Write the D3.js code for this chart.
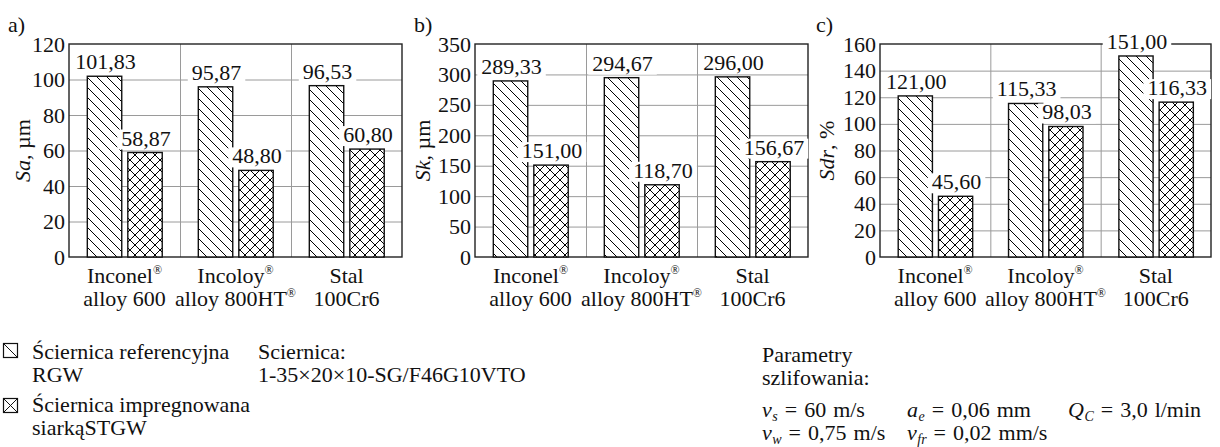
<!DOCTYPE html>
<html><head><meta charset="utf-8">
<script src="https://cdn.jsdelivr.net/npm/d3@7"></script>
<style>
html,body{margin:0;padding:0;background:#fff;}
svg{display:block;font-family:"Liberation Serif","Times New Roman",serif;}
</style></head>
<body>
<svg id="chart" width="1220" height="447"></svg>
<script>
// ---------- DATA ----------
const categories = ["Inconel", "Incoloy", "Stal"];
const categoryLine1 = [["Inconel", "®"], ["Incoloy", "®"], ["Stal", ""]];
const categoryLine2 = [["alloy 600", ""], ["alloy 800HT", "®"], ["100Cr6", ""]];
const seriesNames = ["RGW", "STGW"];

const saRGW  = [101.83, 95.87, 96.53];
const saSTGW = [58.87, 48.80, 60.80];
const skRGW  = [289.33, 294.67, 296.00];
const skSTGW = [151.00, 118.70, 156.67];
const sdrRGW  = [121.00, 115.33, 151.00];
const sdrSTGW = [45.60, 98.03, 116.33];

const saTicks  = [0, 20, 40, 60, 80, 100, 120];
const skTicks  = [0, 50, 100, 150, 200, 250, 300, 350];
const sdrTicks = [0, 20, 40, 60, 80, 100, 120, 140, 160];

const panelLetters = ["a)", "b)", "c)"];
const axisTitles = [["Sa", ", µm"], ["Sk", ", µm"], ["Sdr", ", %"]];

// ---------- LAYOUT ----------
const svg = d3.select("#chart");
const root = svg.append("g").attr("font-family", "Liberation Serif, Times New Roman, serif");
const FS = 22;
const plotTop = 44, plotBottom = 257;
const panels = [
  {left: 69,  right: 402,  titleX: 31,  letterX: 8,   ticks: saTicks,  s1: saRGW,  s2: saSTGW},
  {left: 475, right: 808,  titleX: 431, letterX: 414, ticks: skTicks,  s1: skRGW,  s2: skSTGW},
  {left: 880, right: 1211, titleX: 835, letterX: 816, ticks: sdrTicks, s1: sdrRGW, s2: sdrSTGW}
];

// patterns
const defs = svg.append("defs");
const p1 = defs.append("pattern").attr("id", "diag").attr("patternUnits", "userSpaceOnUse")
  .attr("width", 10).attr("height", 10);
p1.append("rect").attr("width", 10).attr("height", 10).attr("fill", "#fff");
p1.append("path").attr("d", "M-1,-1 L11,11 M-6,4 L1,11 M4,-6 L11,1")
  .attr("stroke", "#000").attr("stroke-width", 1);
const p2 = defs.append("pattern").attr("id", "cross").attr("patternUnits", "userSpaceOnUse")
  .attr("width", 10).attr("height", 10);
p2.append("rect").attr("width", 10).attr("height", 10).attr("fill", "#fff");
p2.append("path").attr("d", "M-1,-1 L11,11 M-6,4 L1,11 M4,-6 L11,1 M11,-1 L-1,11 M-6,6 L1,-1 M9,11 L16,4")
  .attr("stroke", "#000").attr("stroke-width", 1);
const fills = ["url(#diag)", "url(#cross)"];

const fmt = v => d3.format(".2f")(v).replace(".", ",");

panels.forEach((P, pi) => {
  const g = root.append("g");
  const maxV = P.ticks[P.ticks.length - 1];
  const y = d3.scaleLinear().domain([0, maxV]).range([plotBottom, plotTop]);
  const x0 = d3.scaleBand().domain(categories).range([P.left, P.right]).padding(0);
  const cw = x0.bandwidth();
  const x1 = d3.scaleBand().domain(seriesNames).range([cw * 0.165, cw * 0.84]).paddingInner(0.15);

  // horizontal grid
  g.append("g").selectAll("line").data(P.ticks.slice(1, -1)).join("line")
    .attr("x1", P.left).attr("x2", P.right)
    .attr("y1", d => y(d) + 0.5).attr("y2", d => y(d) + 0.5)
    .attr("stroke", "#9a9a9a").attr("stroke-width", 1);
  // vertical grid at category boundaries
  g.append("g").selectAll("line").data(categories.slice(1)).join("line")
    .attr("x1", d => x0(d) + 0.5).attr("x2", d => x0(d) + 0.5)
    .attr("y1", plotTop).attr("y2", plotBottom)
    .attr("stroke", "#9a9a9a").attr("stroke-width", 1);

  // frame
  g.append("rect").attr("x", P.left).attr("y", plotTop)
    .attr("width", P.right - P.left).attr("height", plotBottom - plotTop)
    .attr("fill", "none").attr("stroke", "#222").attr("stroke-width", 1.4);

  // y axis tick labels via d3 axis
  const ax = g.append("g").attr("transform", `translate(${P.left},0)`)
    .call(d3.axisLeft(y).tickValues(P.ticks).tickSize(0).tickPadding(4).tickFormat(d3.format("d")));
  ax.attr("font-family", null);
  ax.select(".domain").remove();
  ax.selectAll("text").attr("font-size", FS).attr("fill", "#111");

  // bars
  const rows = categories.map((c, i) => [
    {c, s: 0, v: P.s1[i]}, {c, s: 1, v: P.s2[i]}
  ]).flat();
  g.append("g").selectAll("rect").data(rows).join("rect")
    .attr("x", d => x0(d.c) + x1(seriesNames[d.s]))
    .attr("width", x1.bandwidth())
    .attr("y", d => y(d.v))
    .attr("height", d => plotBottom - y(d.v))
    .attr("fill", d => fills[d.s])
    .attr("stroke", "#111").attr("stroke-width", 1.4);

  // value labels with white background
  const lab = g.append("g").selectAll("g").data(rows).join("g")
    .attr("transform", d => `translate(${x0(d.c) + x1(seriesNames[d.s]) + x1.bandwidth() / 2 + 1},${y(d.v) - 7})`);
  lab.append("rect").attr("fill", "#fff");
  lab.append("text").attr("text-anchor", "middle").attr("font-size", FS).attr("fill", "#111")
    .text(d => fmt(d.v));
  lab.each(function() {
    const t = d3.select(this).select("text").node().getBBox();
    d3.select(this).select("rect").attr("x", t.x - 4).attr("y", -16).attr("width", t.width + 8).attr("height", 20);
  });

  // category labels
  const cl = g.append("g").selectAll("g").data(categories).join("g")
    .attr("transform", d => `translate(${x0(d) + cw / 2},0)`);
  [categoryLine1, categoryLine2].forEach((L, li) => {
    const t = cl.append("text").attr("text-anchor", "middle").attr("font-size", FS).attr("fill", "#111")
      .attr("y", li === 0 ? 283 : 306);
    t.append("tspan").text((d, i) => L[i][0]);
    t.append("tspan").attr("font-size", 12).attr("dy", -9).text((d, i) => L[i][1]);
  });

  // axis title
  const tt = g.append("text").attr("transform", `translate(${P.titleX - 1},${(plotTop + plotBottom) / 2}) rotate(-90)`)
    .attr("text-anchor", "middle").attr("font-size", FS).attr("fill", "#111");
  tt.append("tspan").attr("font-style", "italic").text(axisTitles[pi][0]);
  tt.append("tspan").text(axisTitles[pi][1]);

  // panel letter
  g.append("text").attr("x", P.letterX).attr("y", 32).attr("font-size", FS).attr("fill", "#111")
    .text(panelLetters[pi]);
});

// ---------- LEGEND ----------
const legendLines = [["Ściernica referencyjna", "RGW"], ["Ściernica impregnowana", "siarkąSTGW"]];
const leg = root.append("g");
[0, 1].forEach(i => {
  const by = i === 0 ? 359 : 412;
  const iy = i === 0 ? 343 : 398;
  leg.append("rect").attr("x", 3.5).attr("y", iy + 0.5).attr("width", 14).attr("height", 14)
    .attr("fill", "#fff").attr("stroke", "#111").attr("stroke-width", 1.2);
  leg.append("line").attr("x1", 3.5).attr("y1", iy + 0.5).attr("x2", 17.5).attr("y2", iy + 14.5)
    .attr("stroke", "#111").attr("stroke-width", 1);
  if (i === 1) leg.append("line").attr("x1", 17.5).attr("y1", iy + 0.5).attr("x2", 3.5).attr("y2", iy + 14.5)
    .attr("stroke", "#111").attr("stroke-width", 1);
  legendLines[i].forEach((s, k) => {
    leg.append("text").attr("x", 32).attr("y", by + k * 23).attr("font-size", FS).attr("fill", "#111").text(s);
  });
});

// ---------- NOTES ----------
const notes = root.append("g").attr("font-size", FS).attr("fill", "#111");
notes.append("text").attr("x", 258).attr("y", 359).text("Sciernica:");
notes.append("text").attr("x", 258).attr("y", 382).text("1-35×20×10-SG/F46G10VTO");
notes.append("text").attr("x", 762).attr("y", 362).text("Parametry");
notes.append("text").attr("x", 762).attr("y", 385).text("szlifowania:");

const params = [
  {x: 762, y: 417, sym: "v", sub: "s", rest: " = 60 m/s"},
  {x: 907, y: 417, sym: "a", sub: "e", rest: " = 0,06 mm"},
  {x: 1068, y: 417, sym: "Q", sub: "C", rest: " = 3,0 l/min"},
  {x: 762, y: 440, sym: "v", sub: "w", rest: " = 0,75 m/s"},
  {x: 907, y: 440, sym: "v", sub: "fr", rest: " = 0,02 mm/s"}
];
params.forEach(p => {
  const t = notes.append("text").attr("x", p.x).attr("y", p.y).attr("word-spacing", 1.5);
  t.append("tspan").attr("font-style", "italic").text(p.sym);
  t.append("tspan").attr("font-style", "italic").attr("font-size", 14).attr("dy", 4).attr("dx", 0.5).text(p.sub);
  t.append("tspan").attr("dy", -4).text(p.rest);
});
</script>
</body></html>
